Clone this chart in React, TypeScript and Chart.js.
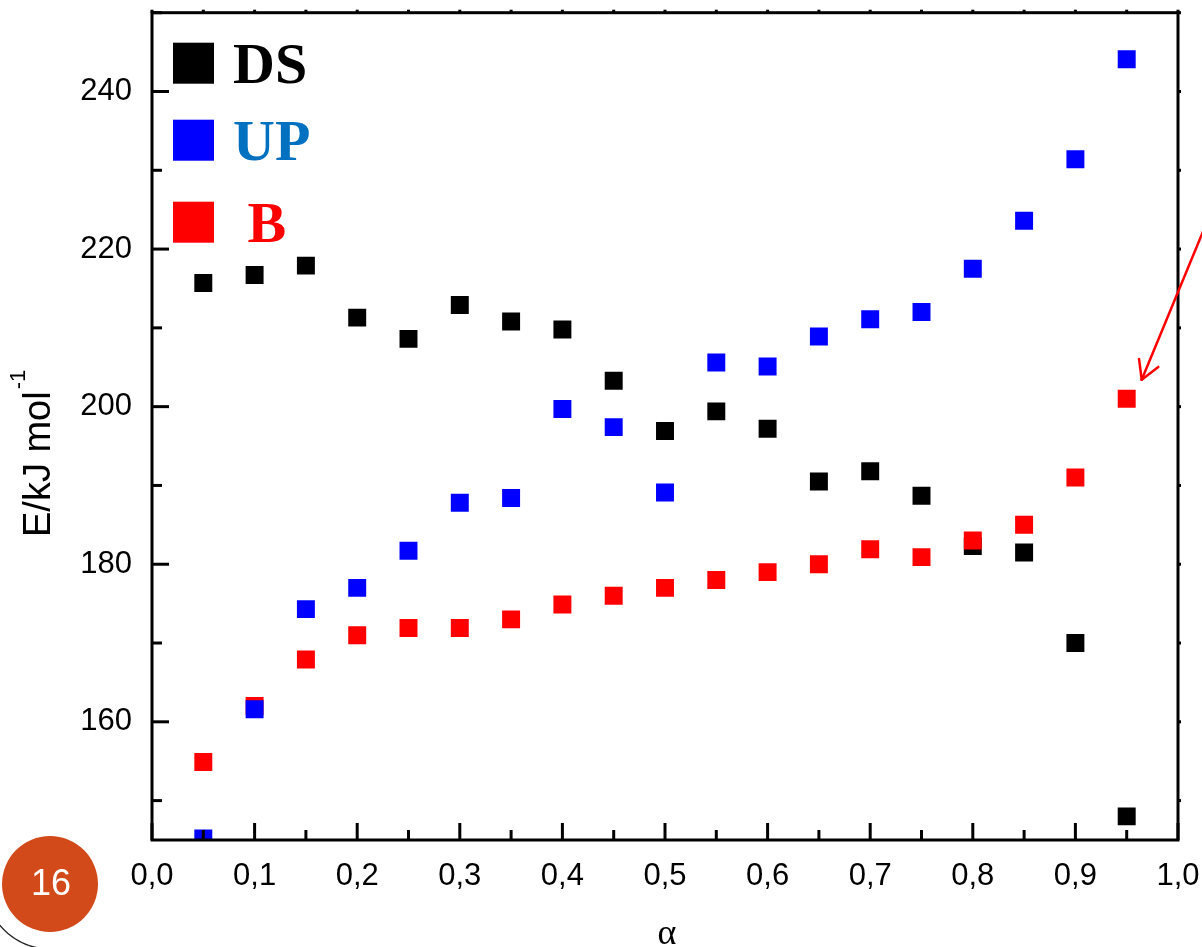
import React, { useEffect, useRef } from "react";
import { Chart, registerables } from "chart.js";

Chart.register(...registerables);

// ---- data ----
const alphaValues = [0.05, 0.1, 0.15, 0.2, 0.25, 0.3, 0.35, 0.4, 0.45, 0.5, 0.55, 0.6, 0.65, 0.7, 0.75, 0.8, 0.85, 0.9, 0.95];
const dsValues = [215.7, 216.7, 217.9, 211.3, 208.6, 212.9, 210.8, 209.8, 203.3, 196.9, 199.4, 197.2, 190.5, 191.8, 188.7, 182.3, 181.5, 170.0, 148.0];
const upValues = [145.2, 161.6, 174.3, 177.0, 181.7, 187.8, 188.4, 199.7, 197.4, 189.1, 205.6, 205.1, 208.9, 211.1, 212.0, 217.5, 223.6, 231.4, 244.1];
const bValues = [154.9, 162.0, 167.9, 171.0, 171.9, 171.9, 173.0, 174.9, 176.0, 177.0, 178.0, 179.0, 180.0, 181.9, 180.9, 183.0, 185.0, 191.0, 201.0];

const seriesNames = ["DS", "UP", " B"];
const markerColors = ["#000000", "#0000FF", "#FF0000"];
const legendTextColors = ["#000000", "#0070C0", "#FF0000"];

const xTicks = [0, 0.1, 0.2, 0.3, 0.4, 0.5, 0.6, 0.7, 0.8, 0.9, 1.0];
const xMinorTicks = [0.05, 0.15, 0.25, 0.35, 0.45, 0.55, 0.65, 0.75, 0.85, 0.95];
const yTicks = [160, 180, 200, 220, 240];
const yMinorTicks = [150, 170, 190, 210, 230, 250];

const xTitle = "α";
const yTitleMain = "E/kJ mol";
const yTitleSup = "-1";
const pageNumber = "16";

const SANS = "'Liberation Sans', Arial, Helvetica, sans-serif";
const SERIF = "'Liberation Serif', 'Times New Roman', serif";

const decorPlugin = {
  id: "decor",
  afterDatasetsDraw(chart: any) {
    const { ctx, chartArea: a, scales } = chart;
    const xs = scales.x;
    const ys = scales.y;
    ctx.save();
    const line = (x1: number, y1: number, x2: number, y2: number) => {
      ctx.beginPath();
      ctx.moveTo(x1, y1);
      ctx.lineTo(x2, y2);
      ctx.stroke();
    };
    ctx.strokeStyle = "#000";
    ctx.lineWidth = 3;
    ctx.lineCap = "butt";
    // frame
    ctx.strokeRect(a.left, a.top, a.right - a.left, a.bottom - a.top);
    // x ticks (inward at bottom, tiny outward at top)
    xTicks.forEach((v) => {
      const px = xs.getPixelForValue(v);
      line(px, a.bottom, px, a.bottom - 17);
      line(px, a.top, px, a.top - 3);
    });
    xMinorTicks.forEach((v) => {
      const px = xs.getPixelForValue(v);
      line(px, a.bottom, px, a.bottom - 10);
      line(px, a.top, px, a.top - 3);
    });
    yTicks.forEach((v) => {
      const py = ys.getPixelForValue(v);
      line(a.left, py, a.left + 17, py);
      line(a.right, py, a.right + 3, py);
    });
    yMinorTicks.forEach((v) => {
      const py = ys.getPixelForValue(v);
      line(a.left, py, a.left + 10, py);
      line(a.right, py, a.right + 3, py);
    });

    // legend
    const rowY = [50, 127, 209];
    ctx.font = `bold 58px ${SERIF}`;
    ctx.textAlign = "left";
    ctx.textBaseline = "alphabetic";
    seriesNames.forEach((name, i) => {
      const cy = a.top + rowY[i];
      ctx.fillStyle = markerColors[i];
      ctx.fillRect(a.left + 21, cy - 20, 41, 41);
      ctx.fillStyle = legendTextColors[i];
      ctx.fillText(name, a.left + 81, cy + 20);
    });

    // y title
    ctx.save();
    ctx.fillStyle = "#000";
    ctx.font = `38px ${SANS}`;
    const mainW = ctx.measureText(yTitleMain).width;
    ctx.translate(50, 537);
    ctx.rotate(-Math.PI / 2);
    ctx.fillText(yTitleMain, 0, 0);
    ctx.font = `22px ${SANS}`;
    ctx.fillText(yTitleSup, mainW + 2, -25);
    ctx.restore();

    // x title
    ctx.fillStyle = "#000";
    ctx.font = `36px ${SERIF}`;
    ctx.textAlign = "center";
    ctx.fillText(xTitle, (a.left + a.right) / 2 + 2, 944);

    // arrow pointing at last B point
    const last = alphaValues.length - 1;
    const px = xs.getPixelForValue(alphaValues[last]);
    const py = ys.getPixelForValue(bValues[last]);
    const tipX = px + 15;
    const tipY = py - 19;
    const dx = 60, dy = -145;
    const len = Math.hypot(dx, dy);
    const ux = dx / len, uy = dy / len;
    ctx.strokeStyle = "#FF0000";
    ctx.lineWidth = 2.5;
    ctx.lineCap = "round";
    line(tipX, tipY, tipX + ux * 200, tipY + uy * 200);
    const ang = Math.atan2(uy, ux);
    [-0.52, 0.52].forEach((d) => {
      line(tipX, tipY, tipX + Math.cos(ang + d) * 21, tipY + Math.sin(ang + d) * 21);
    });

    // slide page badge
    ctx.beginPath();
    ctx.fillStyle = "#D24A19";
    ctx.ellipse(50, 884, 48, 48, 0, 0, Math.PI * 2);
    ctx.fill();
    ctx.fillStyle = "#FFFFFF";
    ctx.font = `36px ${SANS}`;
    ctx.textAlign = "center";
    ctx.textBaseline = "middle";
    ctx.fillText(pageNumber, 51, 885);
    ctx.beginPath();
    ctx.strokeStyle = "#222";
    ctx.lineWidth = 1.3;
    ctx.arc(50, 884, 65, (95 * Math.PI) / 180, (165 * Math.PI) / 180);
    ctx.stroke();

    ctx.restore();
  },
};

export default function App() {
  const canvasRef = useRef<HTMLCanvasElement | null>(null);

  useEffect(() => {
    document.body.style.margin = "0";
    const canvas = canvasRef.current;
    if (!canvas) return;
    Chart.defaults.font.family = SANS;
    const mk = (vals: number[]) => alphaValues.map((x, i) => ({ x, y: vals[i] }));
    const series = [dsValues, upValues, bValues];
    const drawOrder = [2, 0, 1]; // UP on top, then B, DS at the back
    const chart = new Chart(canvas, {
      type: "scatter",
      data: {
        datasets: series.map((vals, i) => ({
          label: seriesNames[i].trim(),
          data: mk(vals),
          pointStyle: "rect",
          pointRadius: 12.7,
          pointHoverRadius: 12.7,
          pointBorderWidth: 0,
          backgroundColor: markerColors[i],
          borderColor: markerColors[i],
          order: drawOrder[i],
          clip: 0,
        })),
      },
      options: {
        animation: false,
        responsive: false,
        devicePixelRatio: 1,
        layout: { padding: { top: 10, right: 24, left: 0, bottom: 0 } },
        plugins: {
          legend: { display: false },
          tooltip: { enabled: false },
        },
        scales: {
          x: {
            type: "linear",
            min: 0,
            max: 1,
            afterBuildTicks: (s: any) => {
              s.ticks = xTicks.map((v) => ({ value: v }));
            },
            ticks: {
              font: { size: 31, family: SANS },
              color: "#000",
              padding: 18,
              maxRotation: 0,
              autoSkip: false,
              callback: (v: any) => Number(v).toFixed(1).replace(".", ","),
            },
            grid: { display: false, drawTicks: false },
            border: { display: false },
            afterFit: (s: any) => {
              s.height = 107;
              s.paddingLeft = 0;
              s.paddingRight = 0;
            },
          },
          y: {
            type: "linear",
            min: 145,
            max: 250,
            afterBuildTicks: (s: any) => {
              s.ticks = yTicks.map((v) => ({ value: v }));
            },
            ticks: {
              font: { size: 31, family: SANS },
              color: "#000",
              padding: 20,
            },
            grid: { display: false, drawTicks: false },
            border: { display: false },
            afterFit: (s: any) => {
              s.width = 152;
              s.paddingTop = 0;
              s.paddingBottom = 0;
            },
          },
        },
      },
      plugins: [decorPlugin],
    } as any);
    return () => chart.destroy();
  }, []);

  return (
    <div style={{ width: 1202, height: 947, overflow: "hidden", background: "#fff" }}>
      <canvas ref={canvasRef} width={1202} height={947} style={{ display: "block" }} />
    </div>
  );
}
